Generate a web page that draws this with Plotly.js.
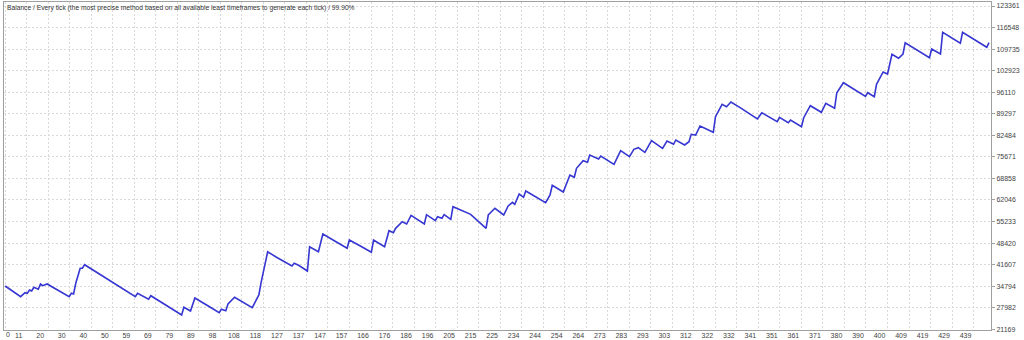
<!DOCTYPE html>
<html>
<head>
<meta charset="utf-8">
<script src="https://cdn.plot.ly/plotly-3.0.1.min.js"></script>
<style>html,body{margin:0;padding:0;background:#fff;}#chart{width:1024px;height:340px;}</style>
</head>
<body>
<div id="chart"></div>
<script>
const chartTitle = "Balance / Every tick (the most precise method based on all available least timeframes to generate each tick) / 99.90%";

const deals = [0,7,9,10,11,12,13,15,16,17,19,29,30,31,32,34,35,36,59,60,65,66,80,81,84,86,93,97,98,100,101,104,112,113,115,116,119,123,130,131,133,137,138,142,144,155,156,161,166,167,172,174,176,177,180,182,184,190,191,195,196,198,199,202,203,211,218,219,222,226,228,230,231,233,235,236,245,247,248,253,256,258,259,262,264,265,269,270,276,279,283,285,287,290,293,298,300,303,304,308,310,311,313,315,321,322,325,327,329,333,341,343,350,351,355,356,361,362,365,370,372,376,377,380,390,391,394,395,398,400,402,405,407,408,419,420,424,425,433,434,445,446];

const balance = [34850,31470,32735,32520,33590,33270,34440,33810,35485,34950,35485,31470,32545,32325,35705,40450,40450,41585,31470,32545,30650,31785,25685,28120,26950,31060,28120,26415,27490,27045,29165,31280,27995,29385,32010,35895,45695,43925,41175,42030,41395,39595,47275,45695,51290,46770,49395,47495,45505,49395,47275,52335,51700,53090,55180,54450,57200,54450,57390,55495,56760,56255,57390,55935,59920,57515,53090,57295,59415,57295,60140,61310,60680,63935,62890,64885,61195,63615,66680,64565,69940,69215,72060,74460,73955,76260,75000,75945,73320,77620,75725,78065,78570,77115,80780,78380,80685,79645,81005,79425,80465,82805,82585,85430,83440,88370,92290,91530,93015,91335,87640,89630,86790,88180,86470,87325,85210,88050,91845,89755,92605,91025,95955,99115,94815,95955,94690,98610,102500,101865,108095,106830,108190,111760,107020,109770,108190,115050,111570,115050,110305,111760];

const xTickLabels = ["0","11","20","30","40","50","59","69","79","89","98","108","118","127","137","147","157","166","176","186","196","205","215","225","234","244","254","264","273","283","293","303","312","322","332","341","351","361","371","380","390","400","409","419","429","439"];

const yTickLabels = ["123361","116548","109735","102923","96110","89297","82484","75671","68858","62046","55233","48420","41607","34794","27982","21169"];

// grid step in deals between x labels
const xStep = 439 / (xTickLabels.length - 1);
const xTickVals = xTickLabels.map((_, i) => i * xStep);
const xTickText = xTickLabels.map((t, i) => i === 0 ? "" : t);
const yTickVals = yTickLabels.map(Number);

const axisFont = {family: "Liberation Sans, Arial, sans-serif", size: 7, color: "#444"};

const trace = {
  x: deals, y: balance, type: "scatter", mode: "lines",
  line: {color: "#3636d2", width: 1.6},
  hoverinfo: "skip"
};

const layout = {
  width: 1024, height: 340,
  margin: {l: 4, r: 33, t: 2, b: 10, pad: 0},
  paper_bgcolor: "#ffffff", plot_bgcolor: "#ffffff",
  showlegend: false,
  title: {
    text: chartTitle,
    font: {family: "Liberation Sans, Arial, sans-serif", size: 6.7, color: "#333"},
    x: 7 / 1024, xanchor: "left", xref: "container",
    y: 1 - 8 / 340, yanchor: "middle", yref: "container"
  },
  xaxis: {
    range: [-0.54, 446.9], tickmode: "array", tickvals: xTickVals, ticktext: xTickText,
    showgrid: true, gridcolor: "#d9d9d9", griddash: "2px,2px", gridwidth: 1,
    showline: true, linecolor: "#a0a0a0", linewidth: 1, mirror: true,
    zeroline: false, ticks: "", tickfont: axisFont, ticklabelshift: -8, ticklabelstandoff: -1,
    fixedrange: true
  },
  yaxis: {
    side: "right", range: [20945, 124625], tickmode: "array", tickvals: yTickVals, ticktext: yTickLabels,
    showgrid: true, gridcolor: "#d9d9d9", griddash: "2px,2px", gridwidth: 1,
    showline: true, linecolor: "#a0a0a0", linewidth: 1, mirror: true,
    zeroline: false, ticks: "outside", ticklen: 3, tickcolor: "#a0a0a0", tickfont: axisFont,
    ticklabelstandoff: 0, fixedrange: true
  },
  annotations: [{
    x: 0, xref: "x", y: 0, yref: "paper", yanchor: "top", xanchor: "left",
    text: xTickLabels[0], showarrow: false, font: axisFont, xshift: -1, yshift: 1
  }]
};

Plotly.newPlot("chart", [trace], layout, {displayModeBar: false, staticPlot: true});
</script>
</body>
</html>
